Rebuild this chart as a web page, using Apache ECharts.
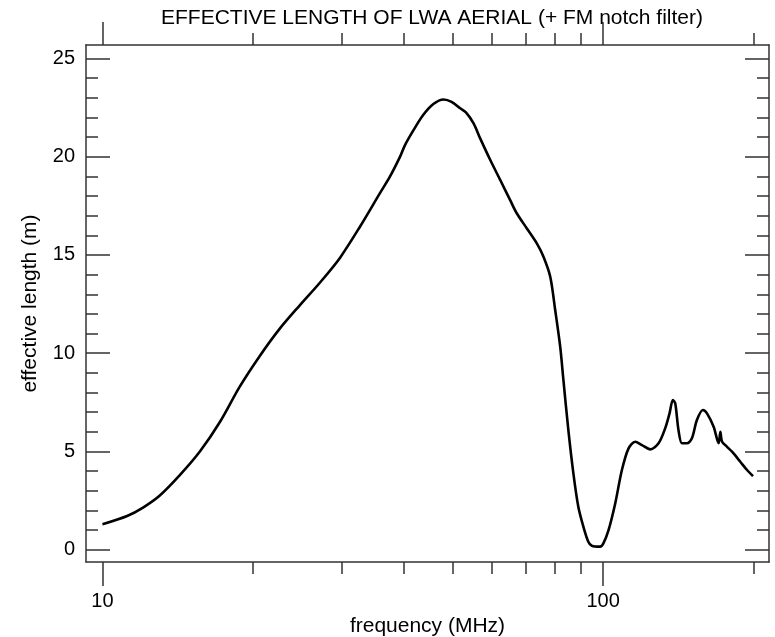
<!DOCTYPE html>
<html>
<head>
<meta charset="utf-8">
<script src="https://cdn.jsdelivr.net/npm/echarts@6/dist/echarts.min.js"></script>
<style>
html,body{margin:0;padding:0;background:#fff;}
#chart{width:775px;height:637px;}
</style>
</head>
<body>
<div id="chart"></div>
<script>
// frequency (MHz)
var freq = [10, 11.2, 12.05, 13.0, 14.27, 15.65, 17.16, 18.8, 20.6, 22.6,
  24.8, 27.2, 29.8, 32.7, 35.8, 37.5, 39.3, 40.2, 41.8, 43.7,
  45.8, 48.0, 49.8, 51.8, 53.2, 55.1, 56.8, 59.5, 62.3, 65.2,
  67.2, 70.4, 73.7, 76.0, 78.4, 80.2, 82.1, 83.3, 85.2, 87.2,
  89.2, 91.3, 93.4, 94.9, 98.6, 100.1, 102.5, 105.7, 109.0, 112.4,
  115.9, 119.5, 124.2, 129.0, 133.0, 135.7, 137.8, 139.3, 141.4, 143.7,
  147.0, 150.4, 153.9, 158.2, 161.2, 166.2, 170.1, 171.4, 172.8, 176.8,
  180.9, 187.9, 193.8, 199.2];
// effective length (m)
var effLength = [1.3, 1.72, 2.15, 2.75, 3.8, 5.0, 6.5, 8.3, 9.85, 11.25,
  12.45, 13.6, 14.85, 16.45, 18.13, 18.98, 20.0, 20.59, 21.35, 22.12,
  22.68, 22.91, 22.79, 22.46, 22.25, 21.69, 20.93, 19.83, 18.81, 17.79,
  17.12, 16.35, 15.59, 14.91, 13.89, 12.2, 10.3, 8.63, 6.1, 3.89,
  2.19, 1.18, 0.41, 0.21, 0.16, 0.33, 1.0, 2.36, 4.06, 5.16,
  5.5, 5.33, 5.11, 5.42, 6.18, 6.94, 7.62, 7.45, 6.09, 5.42,
  5.42, 5.67, 6.6, 7.11, 6.94, 6.26, 5.42, 6.0, 5.5, 5.24,
  4.99, 4.48, 4.06, 3.75];
// tick labels / tick values
var xMajorTicks = [10, 100];
var xMinorTicks = [20, 30, 40, 50, 60, 70, 80, 90, 200];
var yMajorTicks = [0, 5, 10, 15, 20, 25];
var yMinorTicks = [1, 2, 3, 4, 6, 7, 8, 9, 11, 12, 13, 14, 16, 17, 18, 19, 21, 22, 23, 24];

var titleText = 'EFFECTIVE LENGTH OF LWA AERIAL (+ FM notch filter)';
var xName = 'frequency (MHz)';
var yName = 'effective length (m)';

var X_MIN = 9.27, X_MAX = 214.4, Y_MIN = -0.62, Y_MAX = 25.68;
var FONT = '"Liberation Sans", Arial, Helvetica, sans-serif';
var lineCol = '#333333';

function xAx(pos, ticks, len, labels, showLine, extra) {
  var a = {
    type: 'log', position: pos, min: X_MIN, max: X_MAX, logBase: 10,
    axisLine: { show: showLine, onZero: false, lineStyle: { color: lineCol, width: 1.5 } },
    axisTick: { show: true, inside: false, length: len, customValues: ticks, lineStyle: { color: lineCol, width: 1.5 } },
    axisLabel: labels ? { show: true, customValues: ticks, fontSize: 20, color: '#000', margin: 29, fontFamily: FONT } : { show: false },
    splitLine: { show: false }, minorTick: { show: false }
  };
  if (extra) for (var k in extra) a[k] = extra[k];
  return a;
}
function yAx(pos, ticks, len, labels, showLine, extra) {
  var a = {
    type: 'value', position: pos, min: Y_MIN, max: Y_MAX,
    axisLine: { show: showLine, onZero: false, lineStyle: { color: lineCol, width: 1.5 } },
    axisTick: { show: true, inside: true, length: len, customValues: ticks, lineStyle: { color: lineCol, width: 1.5 } },
    axisLabel: labels ? { show: true, customValues: ticks, fontSize: 20, color: '#000', margin: 11, fontFamily: FONT } : { show: false },
    splitLine: { show: false }, minorTick: { show: false }
  };
  if (extra) for (var k in extra) a[k] = extra[k];
  return a;
}

var data = freq.map(function (f, i) { return [f, effLength[i]]; });

var chart = echarts.init(document.getElementById('chart'), null, { renderer: 'canvas' });
chart.setOption({
  animation: false,
  backgroundColor: '#ffffff',
  textStyle: { fontFamily: FONT },
  title: {
    text: titleText, left: 427, top: 3, textAlign: 'center',
    textStyle: { fontSize: 21, fontWeight: 'normal', color: '#000', fontFamily: FONT }
  },
  grid: { left: 86, right: 6, top: 45, bottom: 75, containLabel: false, outerBoundsMode: 'none' },
  xAxis: [
    xAx('bottom', xMajorTicks, 24, true, true, {
      name: xName, nameLocation: 'middle', nameGap: 39,
      nameTextStyle: { fontSize: 21, color: '#000', fontFamily: FONT }
    }),
    xAx('bottom', xMinorTicks, 12, false, false),
    xAx('top', xMajorTicks, 23, false, true),
    xAx('top', xMinorTicks, 12, false, false)
  ],
  yAxis: [
    yAx('left', yMajorTicks, 24, true, true, {
      name: yName, nameLocation: 'middle', nameGap: 45,
      nameTextStyle: { fontSize: 21, color: '#000', fontFamily: FONT }
    }),
    yAx('left', yMinorTicks, 12, false, false),
    yAx('right', yMajorTicks, 24, false, true),
    yAx('right', yMinorTicks, 12, false, false)
  ],
  series: [{
    type: 'line', xAxisIndex: 0, yAxisIndex: 0, data: data,
    showSymbol: false, smooth: 0.3,
    lineStyle: { color: '#000', width: 2.6 }
  }]
});
</script>
</body>
</html>
